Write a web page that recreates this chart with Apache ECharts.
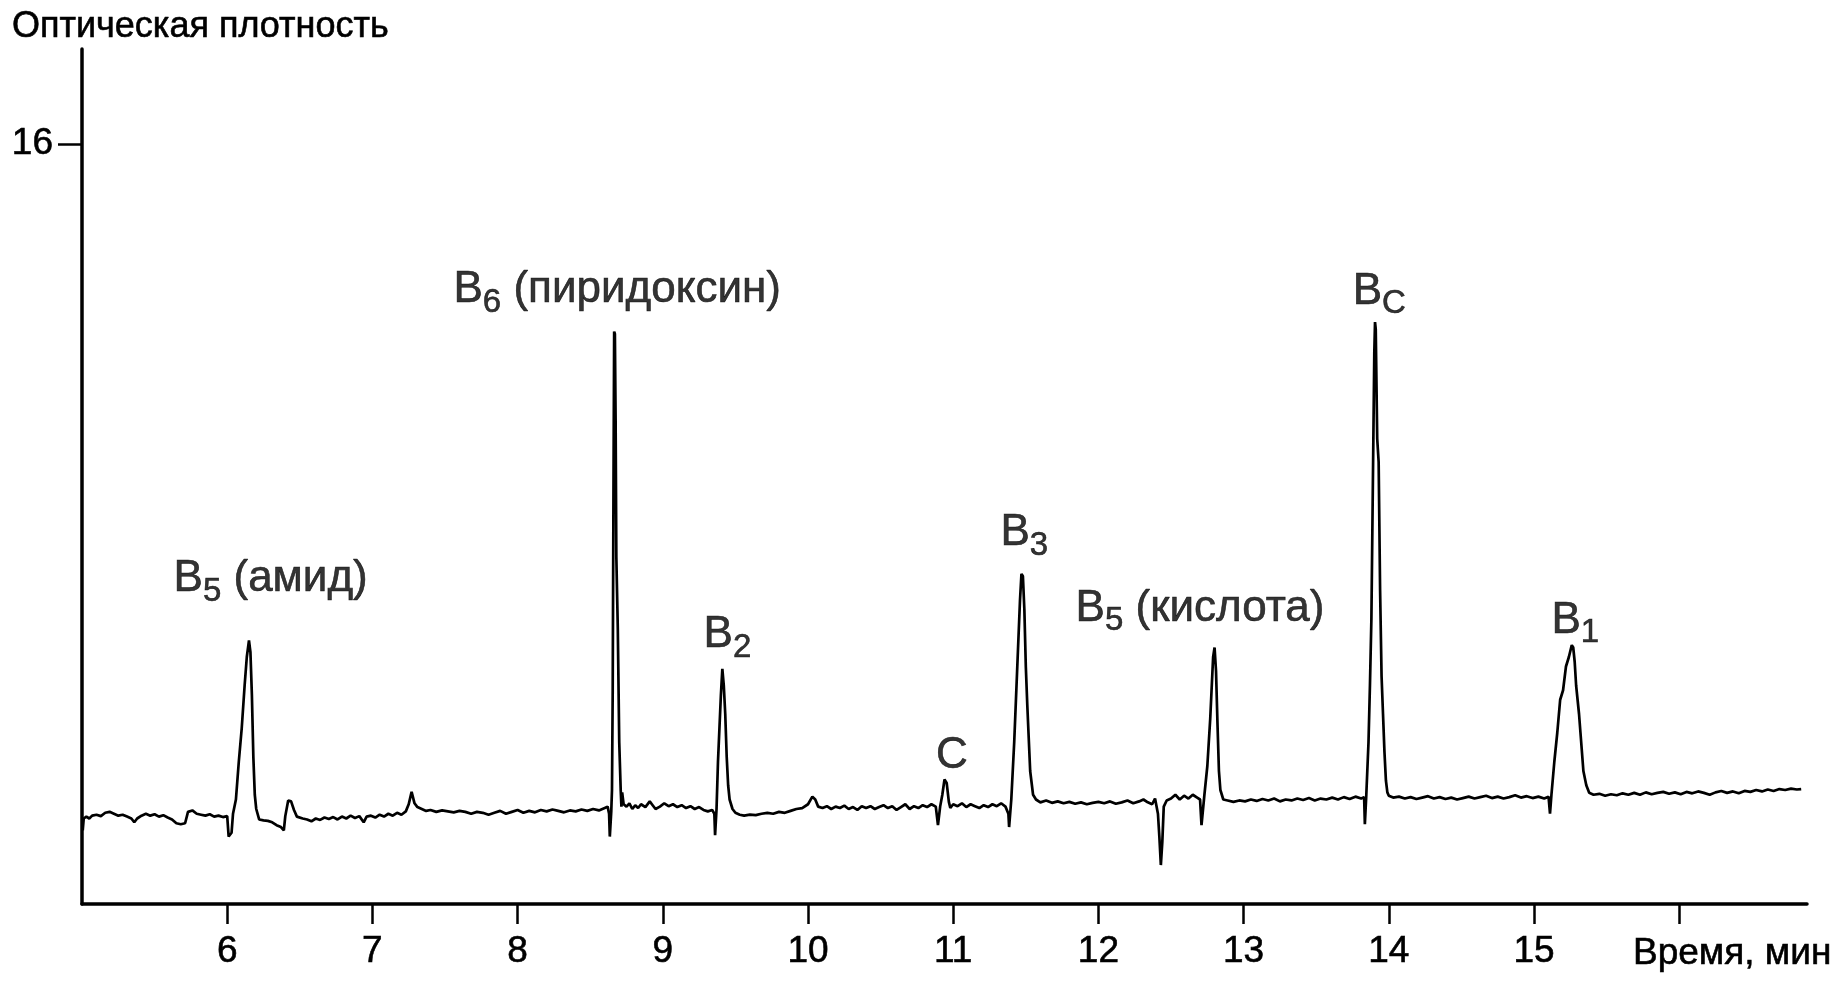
<!DOCTYPE html>
<html>
<head>
<meta charset="utf-8">
<script src="https://cdn.jsdelivr.net/npm/echarts@6/dist/echarts.min.js"></script>
<style>
html,body{margin:0;padding:0;background:#fff;}
#chart{width:1834px;height:984px;}
</style>
</head>
<body>
<div id="chart"></div>
<script>
// ---- data (time, min ; optical density) ----
const trace = [
[5.005,1.55],[5.012,1.80],[5.03,1.84],[5.05,1.80],[5.07,1.86],[5.10,1.88],[5.13,1.85],[5.16,1.92],[5.19,1.94],[5.22,1.90],
[5.25,1.86],[5.28,1.88],[5.31,1.84],[5.34,1.80],[5.36,1.72],[5.38,1.80],[5.41,1.86],[5.44,1.90],[5.47,1.86],[5.50,1.89],
[5.53,1.84],[5.56,1.87],[5.59,1.82],[5.62,1.78],[5.65,1.70],[5.68,1.68],[5.71,1.70],[5.73,1.94],[5.76,1.97],[5.79,1.90],
[5.82,1.88],[5.85,1.86],[5.88,1.89],[5.91,1.84],[5.94,1.86],[5.97,1.83],[6.00,1.85],[6.01,1.42],[6.02,1.38],[6.03,1.50],
[6.04,1.90],[6.06,2.20],[6.08,3.00],[6.10,3.70],[6.12,4.60],[6.135,5.20],[6.15,5.55],[6.16,5.30],[6.17,4.40],[6.18,3.10],
[6.19,2.30],[6.20,2.00],[6.22,1.78],[6.25,1.76],[6.28,1.75],[6.31,1.72],[6.34,1.66],[6.37,1.62],[6.39,1.55],[6.40,1.85],
[6.42,2.18],[6.44,2.16],[6.46,1.98],[6.48,1.84],[6.52,1.80],[6.55,1.78],[6.58,1.74],[6.61,1.80],[6.64,1.77],[6.67,1.82],
[6.70,1.79],[6.73,1.83],[6.76,1.78],[6.79,1.84],[6.82,1.80],[6.85,1.86],[6.88,1.81],[6.91,1.85],[6.94,1.72],[6.96,1.84],
[6.99,1.86],[7.02,1.82],[7.05,1.88],[7.08,1.84],[7.11,1.90],[7.14,1.86],[7.17,1.92],[7.20,1.88],[7.23,1.95],[7.25,2.10],
[7.27,2.36],[7.29,2.12],[7.31,2.04],[7.34,2.00],[7.37,1.96],[7.40,1.98],[7.44,1.94],[7.48,1.97],[7.52,1.95],[7.56,1.93],
[7.60,1.96],[7.64,1.94],[7.68,1.90],[7.72,1.94],[7.76,1.92],[7.80,1.88],[7.84,1.92],[7.88,1.96],[7.92,1.90],[7.96,1.94],
[8.00,1.98],[8.04,1.92],[8.08,1.96],[8.12,1.93],[8.16,1.98],[8.20,1.95],[8.24,1.99],[8.28,1.96],[8.32,1.93],[8.36,1.97],
[8.40,1.95],[8.44,1.99],[8.48,1.96],[8.52,2.00],[8.56,1.97],[8.60,2.02],[8.62,2.05],[8.63,1.90],[8.635,1.42],[8.64,1.40],
[8.645,1.95],[8.65,2.40],[8.655,4.5],[8.66,8.5],[8.665,12.05],[8.67,12.0],[8.675,10.2],[8.68,7.3],[8.69,5.8],[8.70,3.4],
[8.71,2.4],[8.715,2.05],[8.72,2.35],[8.73,2.10],[8.75,2.05],[8.77,2.12],[8.79,2.00],[8.81,2.08],[8.83,2.02],[8.85,2.10],
[8.88,2.04],[8.91,2.16],[8.93,2.08],[8.95,2.00],[8.98,2.05],[9.01,2.12],[9.04,2.06],[9.07,2.10],[9.10,2.04],[9.13,2.08],
[9.16,2.02],[9.19,2.06],[9.22,2.00],[9.25,2.04],[9.28,1.98],[9.31,1.95],[9.34,1.98],[9.355,1.90],[9.36,1.45],[9.365,1.42],
[9.37,2.0],[9.38,3.0],[9.39,3.7],[9.40,4.4],[9.41,4.95],[9.42,4.6],[9.43,4.0],[9.44,3.1],[9.45,2.5],[9.46,2.2],
[9.48,2.00],[9.50,1.92],[9.53,1.88],[9.56,1.86],[9.60,1.88],[9.64,1.87],[9.68,1.90],[9.72,1.92],[9.76,1.90],[9.80,1.94],
[9.84,1.92],[9.88,1.96],[9.92,2.00],[9.96,2.02],[10.00,2.10],[10.03,2.26],[10.05,2.20],[10.07,2.05],[10.10,2.02],[10.13,2.06],
[10.16,2.00],[10.19,2.05],[10.22,2.02],[10.25,2.07],[10.28,2.00],[10.31,2.04],[10.34,1.98],[10.37,2.06],[10.40,2.02],[10.43,2.06],
[10.46,2.00],[10.49,2.04],[10.52,2.08],[10.55,2.02],[10.58,2.06],[10.61,1.98],[10.64,2.04],[10.67,2.10],[10.70,2.00],[10.73,2.06],
[10.76,2.02],[10.79,2.08],[10.82,2.04],[10.85,2.10],[10.88,2.05],[10.895,1.66],[10.90,1.62],[10.91,2.05],[10.925,2.30],[10.94,2.62],
[10.955,2.55],[10.97,2.15],[10.98,2.02],[11.00,2.10],[11.03,2.06],[11.06,2.12],[11.09,2.04],[11.12,2.10],[11.15,2.06],[11.18,2.02],
[11.21,2.08],[11.24,2.04],[11.27,2.10],[11.30,2.06],[11.33,2.12],[11.36,2.05],[11.38,1.90],[11.385,1.62],[11.39,1.65],[11.40,2.20],
[11.42,3.40],[11.44,4.9],[11.46,6.4],[11.47,6.95],[11.48,6.9],[11.49,6.2],[11.50,5.0],[11.51,4.2],[11.52,3.5],[11.53,2.8],
[11.55,2.3],[11.57,2.20],[11.60,2.14],[11.64,2.18],[11.68,2.13],[11.72,2.16],[11.76,2.12],[11.80,2.15],[11.84,2.11],[11.88,2.14],
[11.92,2.10],[11.96,2.13],[12.00,2.15],[12.04,2.12],[12.08,2.16],[12.12,2.11],[12.16,2.14],[12.20,2.18],[12.24,2.12],[12.28,2.16],
[12.31,2.20],[12.34,2.14],[12.37,2.10],[12.39,2.22],[12.41,1.90],[12.42,1.40],[12.43,0.82],[12.44,1.30],[12.45,2.05],[12.47,2.18],
[12.50,2.22],[12.53,2.30],[12.56,2.20],[12.59,2.28],[12.62,2.22],[12.65,2.30],[12.68,2.24],[12.70,2.20],[12.71,1.66],[12.72,1.70],
[12.73,2.30],[12.75,2.90],[12.77,3.90],[12.79,5.20],[12.80,5.40],[12.81,4.90],[12.82,3.80],[12.83,2.80],[12.84,2.40],[12.86,2.20],
[12.89,2.18],[12.93,2.15],[12.97,2.18],[13.01,2.16],[13.05,2.20],[13.09,2.17],[13.13,2.21],[13.17,2.18],[13.21,2.22],[13.25,2.16],
[13.29,2.20],[13.33,2.18],[13.37,2.22],[13.41,2.19],[13.45,2.23],[13.49,2.18],[13.53,2.22],[13.57,2.20],[13.61,2.24],[13.65,2.20],
[13.69,2.25],[13.73,2.21],[13.77,2.26],[13.81,2.22],[13.83,2.25],[13.835,1.68],[13.84,1.66],[13.845,2.30],[13.86,3.4],[13.87,4.6],
[13.88,6.0],[13.89,8.8],[13.90,11.6],[13.905,12.25],[13.91,12.1],[13.92,9.8],[13.93,9.3],[13.94,6.6],[13.95,4.8],[13.96,4.0],
[13.97,3.2],[13.98,2.6],[13.99,2.35],[14.00,2.28],[14.03,2.24],[14.07,2.26],[14.11,2.22],[14.15,2.25],[14.19,2.21],[14.23,2.24],
[14.27,2.27],[14.31,2.22],[14.35,2.25],[14.39,2.21],[14.43,2.24],[14.47,2.20],[14.51,2.23],[14.55,2.26],[14.59,2.22],[14.63,2.25],
[14.67,2.28],[14.71,2.23],[14.75,2.26],[14.79,2.22],[14.83,2.25],[14.87,2.29],[14.91,2.24],[14.95,2.27],[14.99,2.23],[15.03,2.26],
[15.07,2.22],[15.10,2.26],[15.11,1.90],[15.115,1.88],[15.12,2.30],[15.14,3.00],[15.16,3.60],[15.18,4.30],[15.20,4.50],[15.22,5.00],
[15.24,5.20],[15.26,5.45],[15.27,5.40],[15.28,5.10],[15.29,4.60],[15.31,4.00],[15.32,3.60],[15.33,3.20],[15.34,2.80],[15.36,2.50],
[15.38,2.34],[15.41,2.30],[15.45,2.32],[15.49,2.28],[15.53,2.31],[15.57,2.29],[15.61,2.33],[15.65,2.30],[15.69,2.34],[15.73,2.30],
[15.77,2.35],[15.81,2.31],[15.85,2.34],[15.89,2.36],[15.93,2.32],[15.97,2.35],[16.01,2.31],[16.05,2.36],[16.09,2.33],[16.13,2.37],
[16.17,2.34],[16.21,2.30],[16.25,2.35],[16.29,2.38],[16.33,2.34],[16.37,2.37],[16.41,2.33],[16.45,2.38],[16.49,2.36],[16.53,2.40],
[16.57,2.37],[16.61,2.41],[16.65,2.38],[16.69,2.42],[16.73,2.40],[16.77,2.43],[16.81,2.41],[16.84,2.42]
];

const xTickValues = [6,7,8,9,10,11,12,13,14,15,16];
const xLabelValues = [6,7,8,9,10,11,12,13,14,15];
const yTickValues = [16];

const yTitle = 'Оптическая плотность';
const xTitle = 'Время, мин';

// peak annotations: [time, density, main, subscript, suffix]
const peakLabels = [
  [5.634, 6.22, 'B', '5', ' (амид)'],
  [7.562, 12.30, 'B', '6', ' (пиридоксин)'],
  [9.284, 5.04, 'B', '2', ''],
  [10.885, 2.50, 'C', '', ''],
  [11.329, 7.19, 'B', '3', ''],
  [11.846, 5.60, 'B', '5', ' (кислота)'],
  [13.755, 12.27, 'B', 'C', ''],
  [15.124, 5.35, 'B', '1', '']
];

const FONT = '"Liberation Sans", Arial, sans-serif';
const INK = {color: '#000', textBorderColor: '#000', textBorderWidth: 0.6};

const chart = echarts.init(document.getElementById('chart'), null, {renderer: 'canvas'});
chart.setOption({
  animation: false,
  backgroundColor: '#fff',
  title: {
    text: yTitle, left: 7, top: 4,
    textStyle: Object.assign({fontFamily: FONT, fontSize: 36, fontWeight: 'normal'}, INK)
  },
  grid: {left: 82, right: 27, top: 49, bottom: 80, containLabel: false, outerBoundsMode: 'none'},
  xAxis: {
    type: 'value', min: 5, max: 16.88, interval: 1,
    name: xTitle, nameLocation: 'end', nameGap: -174,
    nameTextStyle: Object.assign({fontFamily: FONT, fontSize: 37, align: 'left', verticalAlign: 'top', padding: [31, 0, 0, 0]}, INK),
    axisLine: {show: true, lineStyle: {color: '#000', width: 3.5}},
    axisTick: {show: true, length: 20, lineStyle: {color: '#000', width: 2.5}, customValues: xTickValues},
    axisLabel: Object.assign({show: true, margin: 29, fontFamily: FONT, fontSize: 37, customValues: xLabelValues}, INK),
    splitLine: {show: false}
  },
  yAxis: {
    type: 'value', min: 0, max: 18,
    axisLine: {show: true, lineStyle: {color: '#000', width: 3.5}},
    axisTick: {show: true, length: 24, lineStyle: {color: '#000', width: 2.5}, customValues: yTickValues},
    axisLabel: Object.assign({show: true, margin: 29, fontFamily: FONT, fontSize: 37, customValues: yTickValues}, INK),
    splitLine: {show: false}
  },
  series: [
    {
      type: 'line', data: trace, showSymbol: false, symbol: 'none', silent: true,
      lineStyle: {color: '#000', width: 2.7}
    },
    {
      type: 'scatter', silent: true, symbolSize: 1, itemStyle: {color: 'rgba(0,0,0,0)'},
      data: peakLabels.map(p => [p[0], p[1]]),
      label: {
        show: true, position: [0, 0], align: 'left', verticalAlign: 'bottom', color: '#000',
        formatter: function (params) {
          const d = peakLabels[params.dataIndex];
          let s = '{m|' + d[2] + '}';
          if (d[3]) s += '{s|' + d[3] + '}';
          if (d[4]) s += '{m|' + d[4] + '}';
          return s;
        },
        rich: {
          m: Object.assign({fontFamily: FONT, fontSize: 44, lineHeight: 44, padding: [0, 0, 14, 0]}, INK),
          s: Object.assign({fontFamily: FONT, fontSize: 33, lineHeight: 33, verticalAlign: 'bottom'}, INK)
        }
      },
      labelLayout: {hideOverlap: false},
      z: 5
    }
  ]
});
</script>
</body>
</html>
